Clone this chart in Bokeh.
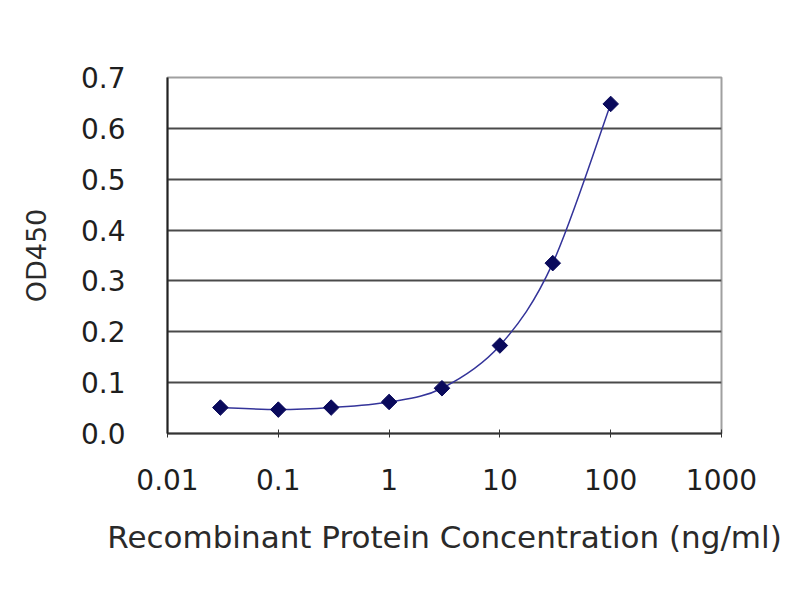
import numpy as np
from bokeh.plotting import figure
from bokeh.models import Range1d, FixedTicker, NumeralTickFormatter
from bokeh.embed import file_html
from bokeh.resources import INLINE

# ELISA standard curve
conc = [0.03, 0.1, 0.3, 1, 3, 10, 30, 100]
od450 = [0.051, 0.047, 0.051, 0.062, 0.089, 0.173, 0.335, 0.648]

x_ticks = [0.01, 0.1, 1, 10, 100, 1000]
x_tick_labels = ["0.01", "0.1", "1", "10", "100", "1000"]
y_ticks = [0.0, 0.1, 0.2, 0.3, 0.4, 0.5, 0.6, 0.7]

p = figure(frame_width=554, frame_height=356,
           x_axis_type="log",
           x_range=Range1d(0.01, 1000), y_range=Range1d(0, 0.7),
           x_axis_label="Recombinant Protein Concentration (ng/ml)",
           y_axis_label="OD450",
           output_backend="svg", toolbar_location=None)
p.min_border_left = 167
p.min_border_top = 77
p.min_border_right = 71
p.min_border_bottom = 159
p.background_fill_color = "white"
p.border_fill_color = "white"
p.outline_line_color = "#a0a0a0"
p.outline_line_width = 2

# smoothed line: cubic bezier segments (catmull-rom style) in log-x space
lx = np.log10(conc)
ly = np.array(od450)
n = len(lx)
px = np.concatenate([[lx[0]], lx, [lx[-1]]])
py = np.concatenate([[ly[0]], ly, [ly[-1]]])
x0, y0, x1, y1, cx0, cy0, cx1, cy1 = [], [], [], [], [], [], [], []
for i in range(n - 1):
    a, b, c, d = i, i + 1, i + 2, i + 3
    x0.append(10 ** px[b]); y0.append(py[b])
    x1.append(10 ** px[c]); y1.append(py[c])
    cx0.append(10 ** (px[b] + (px[c] - px[a]) / 6)); cy0.append(py[b] + (py[c] - py[a]) / 6)
    cx1.append(10 ** (px[c] - (px[d] - px[b]) / 6)); cy1.append(py[c] - (py[d] - py[b]) / 6)
p.bezier(x0=x0, y0=y0, x1=x1, y1=y1, cx0=cx0, cy0=cy0, cx1=cx1, cy1=cy1,
         line_color="#34349a", line_width=1.5)

# diamond markers (square turned 45 degrees)
p.scatter(conc, od450, marker="square", size=11, angle=np.pi / 4,
          fill_color="#0a0a5c", line_color="#0a0a5c")

# grid
p.xgrid.visible = False
p.ygrid.ticker = FixedTicker(ticks=y_ticks[1:-1])
p.ygrid.grid_line_color = "#4a4a4a"
p.ygrid.grid_line_width = 2

font = "DejaVu Sans"
# x axis
xa = p.xaxis[0]
xa.ticker = FixedTicker(ticks=x_ticks)
xa.major_label_overrides = dict(zip(x_ticks, x_tick_labels))
xa.minor_tick_line_color = None
xa.major_tick_in = 4
xa.major_tick_out = 4
xa.major_tick_line_color = "#333333"
xa.axis_line_color = "#333333"
xa.axis_line_width = 2
xa.major_label_standoff = 31
xa.major_label_text_font = font
xa.major_label_text_font_size = "28px"
xa.major_label_text_color = "#1e1e1e"
xa.axis_label_text_font = font
xa.axis_label_text_font_size = "31px"
xa.axis_label_text_font_style = "normal"
xa.axis_label_text_color = "#2a2a2a"
xa.axis_label_standoff = 26

# y axis
ya = p.yaxis[0]
ya.ticker = FixedTicker(ticks=y_ticks)
ya.formatter = NumeralTickFormatter(format="0.0")
ya.minor_tick_line_color = None
ya.major_tick_line_color = None
ya.axis_line_color = "#222222"
ya.axis_line_width = 2
ya.major_label_standoff = 36
ya.major_label_text_font = font
ya.major_label_text_font_size = "28px"
ya.major_label_text_color = "#1e1e1e"
ya.axis_label_text_font = font
ya.axis_label_text_font_size = "27px"
ya.axis_label_text_font_style = "normal"
ya.axis_label_text_color = "#2a2a2a"
ya.axis_label_standoff = 26

open("out.html", "w").write(file_html(p, INLINE))
